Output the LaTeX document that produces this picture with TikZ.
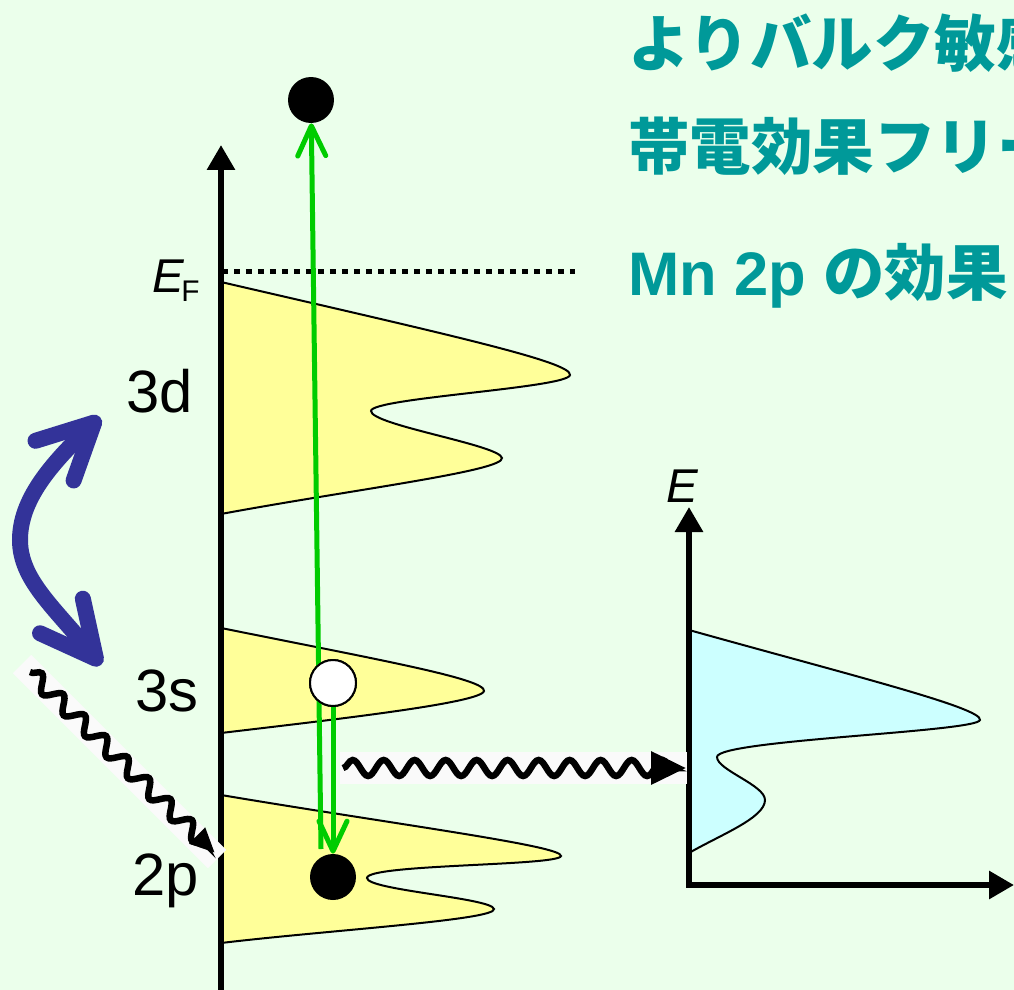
\documentclass[tikz,border=0pt]{standalone}
\usepackage{fontspec}
\setmainfont{Liberation Sans}
\newfontfamily\jp{Noto Sans CJK JP}
\usetikzlibrary{positioning, arrows.meta, decorations.pathmorphing}

\definecolor{bgmint}{RGB}{235,255,235}
\definecolor{dosyellow}{RGB}{255,255,153}
\definecolor{doscyan}{RGB}{204,255,255}
\definecolor{headteal}{RGB}{0,153,153}
\definecolor{swapblue}{RGB}{51,51,153}
\definecolor{transgreen}{RGB}{0,204,0}

\begin{document}
\begin{tikzpicture}[x=0.02cm, y=-0.02cm,
  dos/.style={draw=black, line width=0.04cm},
  axis/.style={line width=0.12cm},
  tri/.tip={Triangle[length=0.5cm, width=0.54cm]},
  lvl/.style={font=\fontsize{34}{34}\selectfont, anchor=base east, inner sep=0pt},
  dot/.style={circle, fill=black, minimum size=0.92cm, inner sep=0pt},
  hole/.style={circle, draw=black, fill=white, line width=0.04cm, minimum size=0.92cm, inner sep=0pt},
  trans/.style={transgreen, line width=0.1cm, -{Straight Barb[length=0.6cm, width=0.56cm, round]}},
  photon/.style={line width=0.13cm, decorate,
    decoration={snake, amplitude=0.16cm, segment length=0.62cm, post length=0.15cm}},
  glow/.style={white!96!gray},
  headline/.style={headteal, font=\fontsize{35}{35}\selectfont\bfseries, anchor=base west, inner sep=0pt}]
  \clip (0,0) rectangle (1014,990);
  \fill[bgmint] (0,0) rectangle (1014,990);

  % densities of states
  \filldraw[dos, fill=dosyellow] (221,282) .. controls (450,335) and (572,362) .. (570,375)
    .. controls (568,388) and (371,398) .. (371,411) .. controls (371,425) and (500,445) .. (502,458)
    .. controls (504,471) and (350,490) .. (221,514) -- cycle;
  \filldraw[dos, fill=dosyellow] (221,628) .. controls (380,660) and (486,679) .. (484,691)
    .. controls (482,703) and (330,720) .. (221,733) -- cycle;
  \filldraw[dos, fill=dosyellow] (221,795) .. controls (400,825) and (563,846) .. (561,856)
    .. controls (559,866) and (367,864) .. (367,878) .. controls (367,890) and (492,898) .. (494,909)
    .. controls (496,920) and (330,930) .. (221,943) -- cycle;
  \filldraw[dos, fill=doscyan] (689,630) .. controls (850,675) and (983,708) .. (980,720)
    .. controls (977,732) and (717,740) .. (717,757) .. controls (717,770) and (765,785) .. (765,800)
    .. controls (765,818) and (720,835) .. (689,853) -- cycle;

  % axes
  \coordinate (axbot) at (221,995);
  \coordinate (axtop) at (221,145);
  \draw[axis, -tri] (axbot) -- (axtop);
  \coordinate (etop) at (689,507);
  \coordinate (kend) at (1014,885);
  \draw[axis, tri-tri] (etop) |- (kend);
  \coordinate (efl) at (222,271);
  \coordinate (efr) at (575,271);
  \draw[line width=0.1cm, dash pattern=on 0.12cm off 0.12cm] (efl) -- (efr);

  % electron, hole and transitions
  \node[dot] (topdot) at (311,100) {};
  \node[hole] (hole) at (333,683) {};
  \node[dot] (core) at (333,877) {};
  \coordinate (upfoot) at (321,849);
  \draw[trans] (upfoot) -- (topdot);
  \draw[trans] (hole) -- (core);
  \node[hole] at (hole) {};

  % photons
  \coordinate (emitl) at (343,768);
  \coordinate (emitr) at (686,768);
  \draw[glow, line width=0.64cm] (340,768) -- (687,768);
  \draw[photon, -{Triangle[length=0.7cm, width=0.64cm]}] (emitl) -- (emitr);
  \coordinate (xin) at (30,672);
  \coordinate (xcore) at (215,853);
  \draw[glow, line width=0.52cm] (22,664) -- (217,859);
  \draw[photon, decoration={amplitude=0.15cm, segment length=0.6cm}, -{Triangle[length=0.5cm, width=0.42cm]}] (xin) -- (xcore);

  % 3d <-> 3s
  \coordinate (swap3s) at (101,665);
  \coordinate (swap3d) at (100,417);
  \draw[swapblue, line width=0.32cm,
    {Straight Barb[length=1.1cm, width=1.1cm, round]}-{Straight Barb[length=1.1cm, width=1.1cm, round]}]
    (swap3s) .. controls (55,608) and (20,580) .. (20,540) .. controls (20,500) and (50,465) .. (swap3d);

  % labels
  \node[lvl] (l3d) at (193,412) {3d};
  \node[lvl] (l3s) at (199,711) {3s};
  \node[lvl] (l2p) at (199,895) {2p};
  \node[anchor=base east, inner sep=0pt] (lef) at (200,292)
    {\fontsize{27}{27}\selectfont\itshape E\kern-0.06cm\raisebox{-0.2cm}{\upshape\fontsize{17}{17}\selectfont F}};
  \node[anchor=base, inner sep=0pt, font=\fontsize{27}{27}\selectfont\itshape] (le) at (682,502) {E};

  \node[headline] (bulk) at (628,67) {\jp よりバルク敏感};
  \node[headline] (charge) at (628,169) {\jp 帯電効果フリー};
  \node[headline] (mn) at (628,295) {Mn 2p {\jp の効果}};
\end{tikzpicture}
\end{document}
